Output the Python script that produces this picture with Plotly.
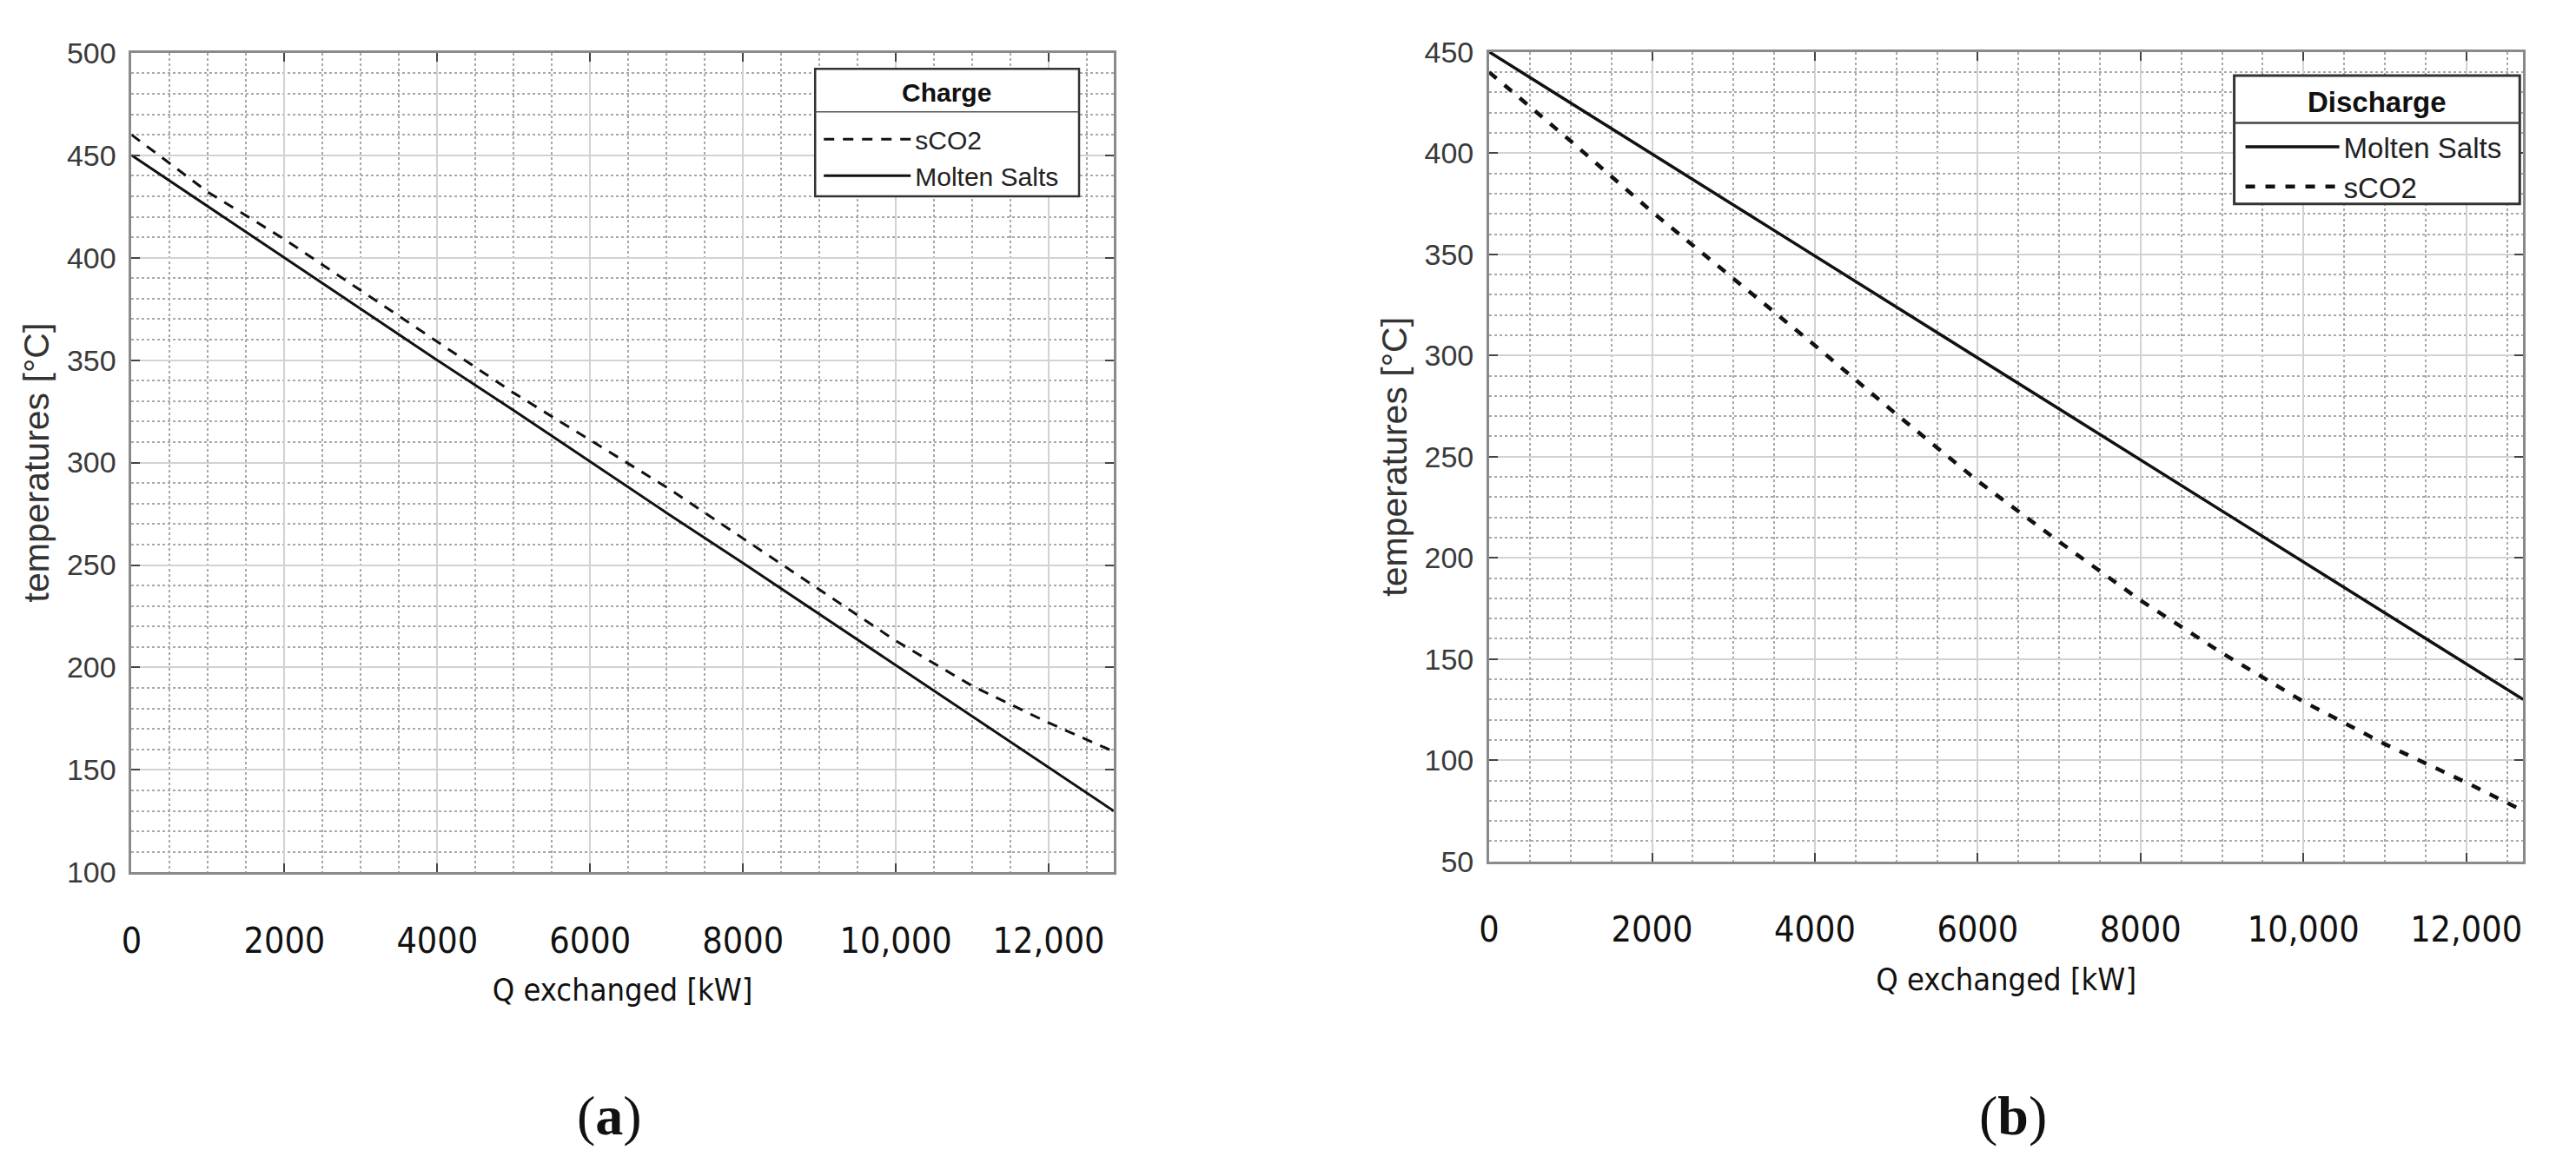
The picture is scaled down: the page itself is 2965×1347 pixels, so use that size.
import plotly.graph_objects as go

# ---------------- data ----------------
q_charge = [0, 1000, 2000, 3000, 4000, 5000, 6000, 7000, 8000, 9000, 10000, 11000, 12000, 12850]
sco2_charge = [460, 432, 409, 384, 359, 334, 311, 288, 263, 238, 213, 191, 173, 159]
ms_charge = [450, 425, 400, 375, 350, 325.5, 300.5, 275.5, 251, 226, 201, 176, 151, 130]

q_dis = [0, 1000, 2000, 3000, 4000, 5000, 6000, 7000, 8000, 9000, 10000, 11000, 12000, 12700]
ms_dis = [450, 425, 399.6, 374.4, 349.2, 324, 298.8, 273.6, 248.4, 223.2, 198, 172.8, 147.6, 130]
sco2_dis = [440, 406, 371, 338, 305, 271, 238, 208, 179, 153, 129, 108, 89, 75]

x_tickvals = [0, 2000, 4000, 6000, 8000, 10000, 12000]
x_ticktext = ["0", "2000", "4000", "6000", "8000", "10,000", "12,000"]
y_ticks_a = [100, 150, 200, 250, 300, 350, 400, 450, 500]
y_ticks_b = [50, 100, 150, 200, 250, 300, 350, 400, 450]

W, H = 2965, 1347

def px(v):
    return v / W

def py(v):
    return 1 - v / H

fig = go.Figure()
fig.add_trace(go.Scatter(x=q_charge, y=sco2_charge, mode="lines", name="sCO2",
                         line=dict(color="#111111", width=3, dash="12px,10px"),
                         xaxis="x", yaxis="y", legend="legend"))
fig.add_trace(go.Scatter(x=q_charge, y=ms_charge, mode="lines", name="Molten Salts",
                         line=dict(color="#111111", width=3),
                         xaxis="x", yaxis="y", legend="legend"))
fig.add_trace(go.Scatter(x=q_dis, y=ms_dis, mode="lines", name="Molten Salts",
                         line=dict(color="#111111", width=3.5),
                         xaxis="x2", yaxis="y2", legend="legend2"))
fig.add_trace(go.Scatter(x=q_dis, y=sco2_dis, mode="lines", name="sCO2",
                         line=dict(color="#111111", width=4.5, dash="11px,12px"),
                         xaxis="x2", yaxis="y2", legend="legend2"))

xt_font = dict(family="DejaVu Sans Condensed, Liberation Sans Narrow, sans-serif", size=41, color="#111111")
yt_font = dict(family="Liberation Sans, Arial, sans-serif", size=34, color="#3a3a3a")
xtitle_font = dict(family="DejaVu Sans Condensed, Liberation Sans Narrow, sans-serif", size=36, color="#111111")
ytitle_font = dict(family="Liberation Sans, Arial, sans-serif", size=41, color="#333333")

def xaxis(domain, rng, anchor):
    return dict(domain=domain, range=rng, anchor=anchor,
                tickmode="array", tickvals=x_tickvals, ticktext=x_ticktext,
                tickfont=xt_font, ticklabelstandoff=40,
                title=dict(text="Q exchanged [kW]", font=xtitle_font, standoff=22),
                showline=True, linecolor="#8a8a8a", linewidth=3, mirror="ticks",
                ticks="inside", ticklen=10, tickwidth=2, tickcolor="#444444",
                showgrid=True, gridcolor="#d2d2d2", gridwidth=2, zeroline=False,
                minor=dict(dtick=500, showgrid=True, gridcolor="#a8a8a8", griddash="dot", gridwidth=1.5),
                fixedrange=True)

def yaxis(domain, rng, ticks, anchor):
    return dict(domain=domain, range=rng, anchor=anchor,
                tickmode="array", tickvals=ticks, ticktext=[str(t) for t in ticks],
                tickfont=yt_font, ticklabelstandoff=8,
                title=dict(text="temperatures [°C]", font=ytitle_font, standoff=8),
                showline=True, linecolor="#8a8a8a", linewidth=3, mirror="ticks",
                ticks="inside", ticklen=10, tickwidth=2, tickcolor="#444444",
                showgrid=True, gridcolor="#d2d2d2", gridwidth=2, zeroline=False,
                minor=dict(dtick=10, showgrid=True, gridcolor="#a8a8a8", griddash="dot", gridwidth=1.5),
                fixedrange=True)

xa = xaxis([px(140), px(1275)], [0, 12850], "y")
ya = yaxis([py(1014), py(43)], [100, 500], y_ticks_a, "x")
xb = xaxis([px(1709), px(2904)], [0, 12700], "y2")
yb = yaxis([py(1001), py(42)], [50, 450], y_ticks_b, "x2")

def legend(x_left, y_mid, size, itemwidth):
    return dict(x=px(x_left), y=py(y_mid), xanchor="left", yanchor="middle",
                bgcolor="rgba(0,0,0,0)", borderwidth=0,
                font=dict(family="Liberation Sans, Arial, sans-serif", size=size, color="#222222"),
                itemwidth=itemwidth, tracegroupgap=0, traceorder="normal")

box_line = "#333333"
shapes = [
    # legend frame (a)
    dict(type="rect", xref="paper", yref="paper", x0=px(930), x1=px(1235), y0=py(213), y1=py(62),
         fillcolor="white", line=dict(color=box_line, width=2.5), layer="above"),
    dict(type="line", xref="paper", yref="paper", x0=px(930), x1=px(1235), y0=py(113), y1=py(113),
         line=dict(color="#555555", width=1.5), layer="above"),
    # legend frame (b)
    dict(type="rect", xref="paper", yref="paper", x0=px(2570), x1=px(2900), y0=py(222), y1=py(70),
         fillcolor="white", line=dict(color=box_line, width=3), layer="above"),
    dict(type="line", xref="paper", yref="paper", x0=px(2570), x1=px(2900), y0=py(126), y1=py(126),
         line=dict(color="#444444", width=2.5), layer="above"),
]

cap_font = dict(family="Liberation Serif, serif", size=64, color="#111111")
annotations = [
    dict(text="<b>Charge</b>", x=px(1082), y=py(90), xref="paper", yref="paper",
         xanchor="center", yanchor="middle", showarrow=False,
         font=dict(family="Liberation Sans, Arial, sans-serif", size=30, color="#111111")),
    dict(text="<b>Discharge</b>", x=px(2735), y=py(101), xref="paper", yref="paper",
         xanchor="center", yanchor="middle", showarrow=False,
         font=dict(family="Liberation Sans, Arial, sans-serif", size=33, color="#111111")),
    dict(text="(<b>a</b>)", x=px(692), y=py(1302), xref="paper", yref="paper",
         xanchor="center", yanchor="middle", showarrow=False, font=cap_font),
    dict(text="(<b>b</b>)", x=px(2314), y=py(1302), xref="paper", yref="paper",
         xanchor="center", yanchor="middle", showarrow=False, font=cap_font),
]

fig.update_layout(
    width=W, height=H, margin=dict(l=0, r=0, t=0, b=0),
    paper_bgcolor="white", plot_bgcolor="white", showlegend=True,
    xaxis=xa, yaxis=ya, xaxis2=xb, yaxis2=yb,
    legend=legend(935, 167, 30, 100),
    legend2=legend(2578, 178, 33, 108),
    shapes=shapes, annotations=annotations,
)

fig.write_html("out.html", config={"displayModeBar": False},
               post_script="document.body.style.margin='0';document.body.style.overflow='hidden';")
